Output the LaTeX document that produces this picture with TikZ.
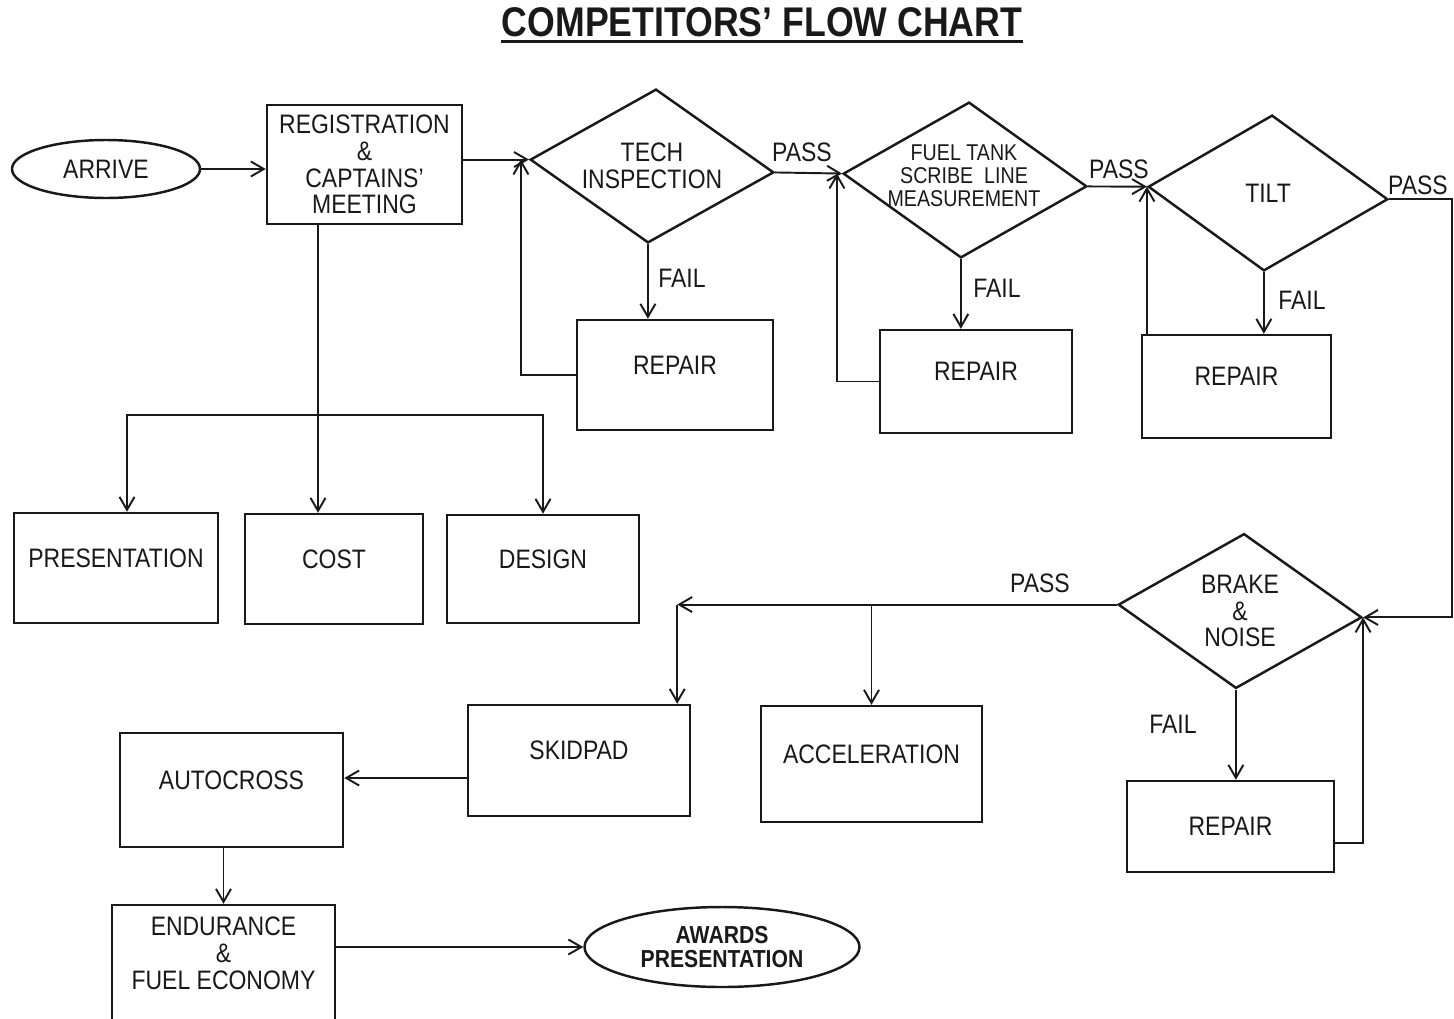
\documentclass[tikz,border=0pt]{standalone}
\usepackage{fontspec}
\newfontfamily\chartfont[FakeStretch=0.86]{Liberation Sans}
\usetikzlibrary{shapes.geometric, arrows.meta, calc}
\newcommand{\lbl}{\chartfont\fontsize{7.6pt}{7.6pt}\selectfont}
\newcommand{\sml}{\chartfont\fontsize{6.5pt}{6.5pt}\selectfont}
\newcommand{\awd}{\chartfont\bfseries\fontsize{7pt}{7.1pt}\selectfont}
\newcommand{\ttl}{\chartfont\bfseries\fontsize{11.8pt}{12pt}\selectfont}

\begin{document}
\begin{tikzpicture}[
  x=0.1mm, y=-0.1mm,
  blk/.style={rectangle, draw=black!90, line width=0.7pt, font=\lbl,
              align=center, text=black!90, inner sep=1pt},
  lift/.style={text height=1.9mm, text depth=2.1mm},
  dec/.style={diamond, draw=black!90, line width=0.7pt, inner sep=0pt, rotate=-3},
  oval/.style={ellipse, draw=black!90, line width=0.7pt, align=center,
               text=black!90, inner sep=0pt},
  tag/.style={font=\lbl, text=black!90, align=center, inner sep=0pt},
  arr/.style={-{Straight Barb[length=1.3mm,width=1.5mm]}, line width=0.55pt, draw=black!90}
]
\useasboundingbox (0,0) rectangle (1454,1018);

\node[font=\ttl, text=black!90, inner sep=0pt] (title) at (762,22) {COMPETITORS’ FLOW CHART};
\draw[line width=0.9pt, black!90] ([yshift=-0.55mm]title.base west) -- ([yshift=-0.55mm]title.base east);

\node[oval, font=\lbl, minimum width=18.8mm, minimum height=5.8mm] (arrive) at (106,169) {ARRIVE};
\node[blk, minimum width=19.5mm, minimum height=11.9mm] (reg) at (364.5,164.5) {REGISTRATION\\\&\\CAPTAINS’\\MEETING};

\node[dec, minimum width=24.4mm, minimum height=15.4mm] (tech) at (652,166) {};
\node[tag] (techtxt) at (tech) {TECH\\INSPECTION};
\node[dec, minimum width=24.4mm, minimum height=15.6mm] (fuel) at (965,180) {};
\node[tag, font=\sml] (fueltxt) at (964,176) {FUEL TANK\\SCRIBE~ LINE\\MEASUREMENT};
\node[dec, minimum width=24mm, minimum height=15.6mm] (tilt) at (1268,193) {};
\node[tag] (tilttxt) at (tilt) {TILT};
\node[dec, minimum width=24.4mm, minimum height=15.5mm] (brake) at (1240,611) {};
\node[tag] (braketxt) at (brake) {BRAKE\\\&\\NOISE};

\node[blk, lift, minimum width=19.6mm, minimum height=11mm] (rep1) at (675,375) {REPAIR};
\node[blk, lift, minimum width=19.2mm, minimum height=10.3mm] (rep2) at (976,381.5) {REPAIR};
\node[blk, lift, minimum width=18.9mm, minimum height=10.3mm] (rep3) at (1236.5,386.5) {REPAIR};
\node[blk, minimum width=20.7mm, minimum height=9.1mm] (rep4) at (1230.5,826.5) {REPAIR};

\node[blk, lift, minimum width=20.4mm, minimum height=11mm] (pres) at (116,568) {PRESENTATION};
\node[blk, lift, minimum width=17.8mm, minimum height=11mm] (cost) at (334,569) {COST};
\node[blk, lift, minimum width=19.2mm, minimum height=10.8mm] (design) at (543,569) {DESIGN};

\node[blk, lift, minimum width=22.2mm, minimum height=11.1mm] (skid) at (579,760.5) {SKIDPAD};
\node[blk, lift, minimum width=22.1mm, minimum height=11.6mm] (accel) at (871.5,764) {ACCELERATION};
\node[blk, lift, minimum width=22.3mm, minimum height=11.4mm] (auto) at (231.5,790) {AUTOCROSS};
\node[blk, text depth=2.2mm, minimum width=22.3mm, minimum height=11.8mm] (endu) at (223.5,964) {ENDURANCE\\\&\\FUEL ECONOMY};
\node[oval, font=\awd, minimum width=27.5mm, minimum height=8mm] (award) at (722,947) {AWARDS\\PRESENTATION};

\node[tag] (pass1) at (802,152) {PASS};
\node[tag] (pass2) at (1119,169) {PASS};
\node[tag] (pass3) at (1418,185) {PASS};
\node[tag] (pass4) at (1040,583) {PASS};
\node[tag] (fail1) at (682,278) {FAIL};
\node[tag] (fail2) at (997,288) {FAIL};
\node[tag] (fail3) at (1302,300) {FAIL};
\node[tag] (fail4) at (1173,724) {FAIL};

\coordinate (bus) at (318,415);
\coordinate (rim) at (1452,0);
\coordinate (split) at ([xshift=-1.4mm]skid.east |- brake.west);

\draw[arr] (arrive.east) -- (arrive.east -| reg.west);
\draw[arr] (reg.east |- tech.west) -- (tech.west);
\draw[arr] (tech.east) -- (fuel.west); \draw[arr] (fuel.east) -- (tilt.west);
\draw[arr] (tilt.east) -- (tilt.east -| rim) |- (brake.east);
\draw[arr] (tech.south) -- (tech.south |- rep1.north);
\draw[arr] (fuel.south) -- (fuel.south |- rep2.north);
\draw[arr] (tilt.south) -- (tilt.south |- rep3.north);
\draw[arr] (brake.south) -- (brake.south |- rep4.north);
\draw[arr] (rep1.west) -| ([xshift=-0.8mm]tech.west);
\draw[arr] (rep2.west) -| ([xshift=-0.5mm]fuel.west);
\draw[arr] (rep3.north -| tilt.west) -- (tilt.west);
\draw[arr] ([yshift=-1.65mm]rep4.east) -| (brake.east);
\draw[arr] (brake.west) -- (split); \draw[arr] (split) -- (split |- skid.north);
\draw[arr] (brake.west -| accel.north) -- (accel.north);
\draw[arr] ([yshift=-1.75mm]skid.west) -- ([yshift=-1.75mm]skid.west -| auto.east);
\draw[arr] (endu.north |- auto.south) -- (endu.north);
\draw[arr] (award.west -| endu.east) -- (award.west);
\draw[arr] (reg.south -| bus) -- (bus |- cost.north);
\draw[arr] (bus) -| ([xshift=1.1mm]pres.north); \draw[arr] (bus) -| (design.north);
\end{tikzpicture}
\end{document}
